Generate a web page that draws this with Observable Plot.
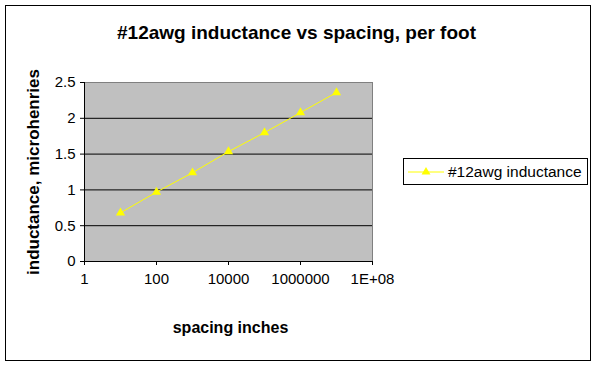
<!DOCTYPE html>
<html>
<head>
<meta charset="utf-8">
<script src="https://cdn.jsdelivr.net/npm/d3@7"></script>
<script src="https://cdn.jsdelivr.net/npm/@observablehq/plot@0.6"></script>
<style>
  html, body { margin: 0; padding: 0; background: #fff; }
  #wrap { position: relative; width: 600px; height: 368px; font-family: "Liberation Sans", Arial, sans-serif; }
  #border { position: absolute; left: 5px; top: 5px; width: 586px; height: 356px; border: 1px solid #000; box-sizing: border-box; pointer-events: none; }
  #legend { position: absolute; left: 403px; top: 158px; width: 185px; height: 27px; border: 1px solid #000; box-sizing: border-box; background: #fff; display: flex; align-items: center; font-size: 15.5px; }
  #legend svg { margin-left: 4px; margin-right: 4px; }
</style>
</head>
<body>
<div id="wrap">
  <div id="chart"></div>
  <div id="border"></div>
  <div id="legend"></div>
</div>
<script>
const title = "#12awg inductance vs spacing, per foot";
const seriesName = "#12awg inductance";
const xLabel = "spacing inches";
const yLabel = "inductance, microhenries";
const spacing = [10, 100, 1000, 10000, 100000, 1000000, 10000000];
const inductance = [0.68, 0.97, 1.24, 1.535, 1.80, 2.08, 2.36];
const xTicks = [1, 100, 10000, 1000000, 100000000];
const xTickLabels = ["1", "100", "10000", "1000000", "1E+08"];
const yTicks = [0, 0.5, 1, 1.5, 2, 2.5];
const yTickLabels = ["0", "0.5", "1", "1.5", "2", "2.5"];
const gridValues = [0.5, 1, 1.5, 2];

const data = spacing.map((s, i) => ({x: s, y: inductance[i]}));
const yellow = "#ffff00";

const chart = Plot.plot({
  width: 600,
  height: 368,
  marginLeft: 84,
  marginRight: 228,
  marginTop: 82,
  marginBottom: 107,
  style: {fontFamily: "'Liberation Sans', Arial, sans-serif", fontSize: "15px", color: "#000", background: "transparent"},
  x: {type: "log", domain: [1, 1e8]},
  y: {domain: [0, 2.5]},
  marks: [
    Plot.frame({fill: "#c0c0c0", stroke: "#808080"}),
    Plot.ruleY(gridValues, {stroke: "#000", strokeWidth: 1}),
    Plot.ruleX([1], {stroke: "#000"}),
    Plot.ruleY([0], {stroke: "#000"}),
    Plot.axisX({ticks: xTicks, tickFormat: (d) => xTickLabels[xTicks.indexOf(d)], tickSize: 4, tickPadding: 8, label: null, stroke: "#000", fontSize: 15}),
    Plot.axisY({ticks: yTicks, tickFormat: (d) => yTickLabels[yTicks.indexOf(d)], tickSize: 4, tickPadding: 5, label: null, stroke: "#000", fontSize: 15}),
    Plot.line(data, {x: "x", y: "y", stroke: yellow, strokeWidth: 1}),
    Plot.dot(data, {x: "x", y: "y", symbol: "triangle", fill: yellow, stroke: "none", r: 3.4}),
    Plot.text([title], {frameAnchor: "top", dx: 68, dy: -50, fontSize: 19, fontWeight: "bold", lineAnchor: "middle"}),
    Plot.text([yLabel], {frameAnchor: "left", textAnchor: "middle", dx: -51, rotate: -90, fontSize: 17, fontWeight: "bold", lineAnchor: "middle"}),
    Plot.text([xLabel], {frameAnchor: "bottom", dx: 2, dy: 66, fontSize: 16, fontWeight: "bold", lineAnchor: "middle"})
  ]
});
document.getElementById("chart").appendChild(chart);

// legend
const legend = d3.select("#legend");
const ls = legend.append("svg").attr("width", 36).attr("height", 12);
ls.append("line").attr("x1", 0).attr("x2", 36).attr("y1", 6).attr("y2", 6).attr("stroke", yellow);
ls.append("path").attr("d", d3.symbol(d3.symbolTriangle, 34)()).attr("transform", "translate(18,6)").attr("fill", yellow);
legend.append("span").text(seriesName);
</script>
</body>
</html>
